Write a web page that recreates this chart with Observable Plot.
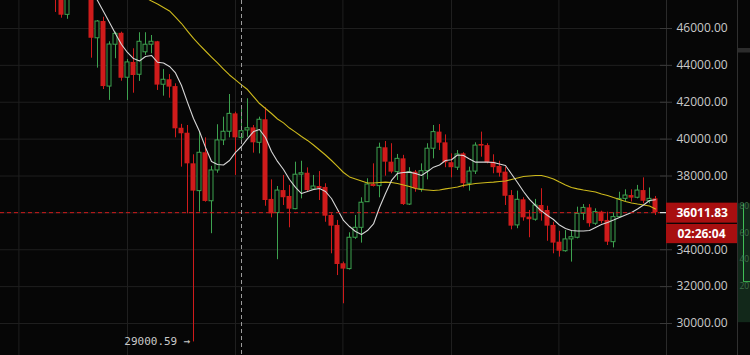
<!DOCTYPE html>
<html><head><meta charset="utf-8">
<script src="https://cdn.jsdelivr.net/npm/d3@7"></script>
<script src="https://cdn.jsdelivr.net/npm/@observablehq/plot@0.6"></script>
<style>
html,body{margin:0;padding:0;background:#060606;}
#chart svg{display:block;overflow:hidden;}
</style>
</head><body><div id="chart"></div>
<script>
// ---- data (one candle per day index) ----
const day = d3.range(-1, 100);
const open = [48200,47650,46740,47700,48100,47900,47800,45470,46380,42850,45120,45740,43330,44160,43490,44710,45120,45280,42950,43220,42850,40590,40320,38660,37180,39260,36630,38300,39930,40400,41370,40070,40470,40610,39800,41050,36730,35990,37210,36890,36200,38070,38150,37270,37430,37380,35860,35320,33240,32950,34650,35190,36580,37540,37450,39530,38750,38210,38930,36450,38210,37270,38260,39480,40380,39800,38720,38450,39200,37580,38240,39710,39650,38750,38520,38210,36940,35320,36710,35770,35630,36400,36130,35320,34410,33920,34560,34650,35950,36270,35410,36040,35590,34410,35770,36760,36940,36820,37210,36630,36760];
const high = [48400,47800,47900,48300,48500,48200,48000,46430,46610,45280,45800,45800,44320,44900,45770,45770,45620,45300,43780,43500,43000,40800,40740,39150,40380,40070,38520,40780,41190,42420,41460,41820,42190,40740,41190,41700,37790,37430,38030,37490,38750,38800,38440,38030,38240,37580,35950,35590,33330,34920,35860,36820,37850,38660,39780,39870,39750,39170,39120,38450,38300,38660,39750,40740,40790,40230,39200,39380,39260,38480,39800,40380,39750,39150,38800,38480,37210,37180,36820,36130,36730,37310,36360,35490,35000,35040,35010,36310,36450,36450,36220,36090,36040,36000,37120,37250,37250,37490,37900,37350,36890];
const low = [46870,46560,46500,47600,47700,47600,44390,43850,42690,42100,44360,43140,42100,42490,43130,44540,44630,42640,42330,42220,40070,38480,35950,29000.59,36040,36580,34870,38150,39650,40070,38030,39830,40100,39240,39200,36360,35730,33460,36400,35190,36170,36760,37120,37210,36670,35490,33780,32600,31070,32900,34560,34360,36580,37400,36820,37990,38120,37760,36400,36400,37120,37120,37790,38930,39380,38450,37900,38300,37360,37180,38080,39020,38660,38120,37940,36400,35080,35140,35550,34650,35550,35550,34460,33780,33600,33870,33330,34590,35590,35220,35320,35410,34230,34100,35750,36580,36590,36760,36490,36490,35860];
const close = [47650,46720,47700,48100,47900,47800,45470,46380,42850,45130,45710,43300,44160,43450,45280,45120,45280,42930,43220,42820,40560,40290,38660,37180,39260,36620,38300,39930,40400,41370,40070,40430,40590,39800,41050,36670,35950,37210,36820,36200,38070,38150,37210,37430,37310,35820,35280,33200,32950,34650,35190,36550,37540,37430,39530,38750,38210,38930,36450,38210,37310,38260,39480,40380,39780,38720,38450,39170,37580,38240,39650,39620,38720,38450,38150,36900,35280,36710,35730,35630,36400,36040,35280,34360,33920,34560,34680,35950,36270,35410,36040,35530,34410,35770,36760,36940,36800,37210,36630,36760,36011.83];
const ma7 = [null,null,null,null,null,48720,48120,47520,46920,46330,45710,45130,44700,44370,44240,44480,44540,44170,44130,43940,43590,42910,41990,41120,40410,39550,38790,38620,38600,38840,39280,39600,40030,40410,40520,40090,39330,38790,38350,37810,37380,37050,37160,37270,37320,37160,36780,36180,35590,35260,34990,34830,35040,35400,36290,37050,37760,38140,38190,38210,38140,38030,38240,38480,38600,38840,38880,39140,39110,38920,38750,38750,38750,38730,38650,38570,38110,37650,37160,36730,36400,36100,35860,35640,35340,35150,35040,35020,35020,35040,35210,35370,35480,35610,35750,35890,36020,36210,36430,36670,36710];
const ma25 = [null,null,null,null,null,null,null,null,null,null,null,null,null,48060,47870,47670,47490,47330,47140,46950,46620,46270,45860,45460,45110,44780,44450,44130,43800,43480,43210,42940,42690,42310,41930,41660,41390,41090,40880,40600,40380,40140,39930,39680,39410,39140,38840,38520,38190,37950,37840,37730,37620,37620,37650,37670,37650,37590,37510,37430,37320,37270,37240,37210,37240,37300,37350,37400,37490,37540,37590,37620,37650,37670,37700,37730,37810,37890,37970,38000,38030,38030,37950,37840,37670,37510,37380,37300,37240,37190,37130,37020,36940,36830,36730,36620,36540,36480,36430,36370,36210];
const yTicks = [30000,32000,34000,36000,38000,40000,42000,44000,46000];
const gridDays = [-7.1, 11, 29, 46.9, 65, 82.9];
const lastPrice = 36011.83;
const countdown = "02:26:04";
const lowDay = 22, lowPrice = 29000.59;
const crossDay = 30;
const sideLabels = ["80","60","40","20"];

// ---- styles ----
const BG = "#060606", GRID = "#1f1f1f", RED = "#cf1b1b", GREEN = "#3da24f";
const BOX = "#a80f10", TXT = "#c9c9c9";

const candles = day.map((d, i) => ({day: d, open: open[i], high: high[i], low: low[i], close: close[i], ma7: ma7[i], ma25: ma25[i]}));
const up = candles.filter(d => d.close >= d.open);
const down = candles.filter(d => d.close < d.open);

const W = 750, H = 355;
const xDomain = [-61/6, 604/6], xRange = [0, 665];
const yDomain = [28264.4, 47518.6];
const xAt = p => xDomain[0] + (p - xRange[0]) * (xDomain[1] - xDomain[0]) / (xRange[1] - xRange[0]);
const unit = (yDomain[1] - yDomain[0]) / H; // price per pixel

const chart = Plot.plot({
  width: W, height: H,
  marginLeft: 0, marginRight: W - xRange[1], marginTop: 0, marginBottom: 0,
  x: {domain: xDomain, axis: null},
  y: {domain: yDomain, axis: null},
  style: {background: BG, color: TXT, fontFamily: "'Open Sans', sans-serif", fontSize: "12px"},
  marks: [
    Plot.ruleY(yTicks, {y: d => d, x1: xDomain[0], x2: xAt(666), stroke: GRID}),
    Plot.ruleX(gridDays, {x: d => d, stroke: GRID}),
    Plot.ruleX([xAt(666)], {x: d => d, stroke: "#2a2a2a"}),
    // wicks
    Plot.ruleX(down, {x: "day", y1: "low", y2: "high", stroke: RED}),
    Plot.ruleX(up, {x: "day", y1: "low", y2: "high", stroke: GREEN}),
    // bodies
    Plot.rect(down, {x1: d => d.day - 5/12, x2: d => d.day + 5/12, y1: "open", y2: "close", fill: RED}),
    Plot.rect(up, {x1: d => d.day - 2/6, x2: d => d.day + 2/6, y1: "open", y2: "close", fill: BG, stroke: GREEN, strokeWidth: 1}),
    // moving averages
    Plot.line(candles, {x: "day", y: "ma25", stroke: "#cdb91c", strokeWidth: 1.1}),
    Plot.line(candles, {x: "day", y: "ma7", stroke: "#d6d6d6", strokeWidth: 1.1}),
    // last price line
    Plot.ruleY([lastPrice], {y: d => d, x1: xDomain[0], x2: xAt(660), stroke: RED, strokeDasharray: "4,3"}),
    // crosshair
    Plot.ruleX([crossDay], {x: d => d, stroke: "#9c9c9c", strokeDasharray: "4,3"}),
    // low annotation
    Plot.text([{day: lowDay, low: lowPrice}], {x: "day", y: "low", text: d => d.low.toFixed(2) + " \u2192", textAnchor: "end", dx: -3, fontFamily: "'DejaVu Sans Mono', monospace", fontSize: 11, fill: TXT}),
    // y axis (right)
    Plot.ruleY(yTicks, {y: d => d, x1: xAt(660), x2: xAt(672), stroke: "#3a3a3a"}),
    Plot.text(yTicks, {x: xAt(676), y: d => d, text: d => d.toFixed(2), textAnchor: "start", fill: TXT}),
    // price boxes
    Plot.rect([lastPrice], {x1: xAt(666), x2: xAt(737), y1: d => d - 10.5 * unit, y2: d => d + 9.5 * unit, fill: BOX}),
    Plot.rect([lastPrice], {x1: xAt(666), x2: xAt(737), y1: d => d - 31 * unit, y2: d => d - 11.8 * unit, fill: BOX}),
    Plot.ruleY([lastPrice], {y: d => d, x1: xAt(660), x2: xAt(666), stroke: "#ffffff"}),
    Plot.text([lastPrice], {x: xAt(676), y: d => d, text: d => d.toFixed(2), textAnchor: "start", fill: "#ffffff", fontWeight: "bold"}),
    Plot.text([countdown], {x: xAt(677), y: lastPrice - 21.4 * unit, text: d => d, textAnchor: "start", fill: "#ffffff", fontWeight: "bold"}),
    // neighbouring panel (cut off at right edge)
    Plot.ruleX([xAt(737)], {x: d => d, stroke: "#303030"}),
    Plot.rect([0], {x1: xAt(738), x2: xAt(750), y1: 46000 - 20 * unit, y2: 46000 - 24.5 * unit, fill: "#2c2c2c"}),
    Plot.rect([0], {x1: xAt(738), x2: xAt(750), y1: lastPrice - 110 * unit, y2: lastPrice + 9 * unit, fill: "#12281a"}),
    Plot.line([[xAt(743), lastPrice + 9 * unit], [xAt(743), lastPrice - 69 * unit], [xAt(750), lastPrice - 69 * unit]], {stroke: "#3fbf55", strokeWidth: 1}),
    Plot.text(sideLabels, {x: xAt(739), y: (d, i) => lastPrice + (6 - i * 26.5) * unit, text: d => d, textAnchor: "start", fill: "#3e6e48", fontSize: 8.5})
  ]
});
document.getElementById("chart").appendChild(chart);
</script>
</body></html>
